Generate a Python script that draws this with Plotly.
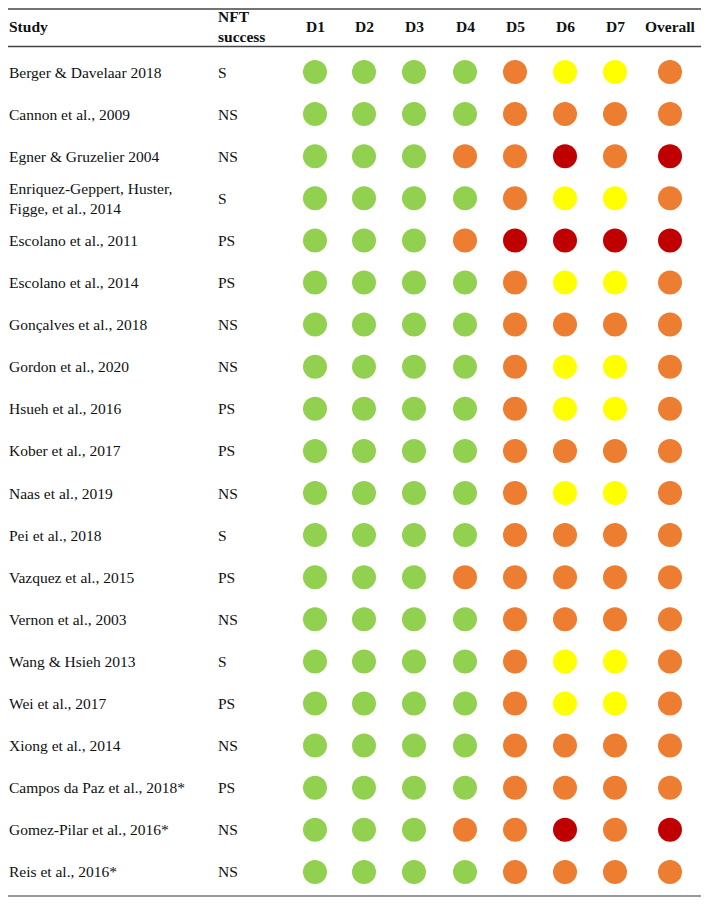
import plotly.graph_objects as go

studies = [
    "Berger & Davelaar 2018",
    "Cannon et al., 2009",
    "Egner & Gruzelier 2004",
    "Enriquez-Geppert, Huster,<br>Figge, et al., 2014",
    "Escolano et al., 2011",
    "Escolano et al., 2014",
    "Gonçalves et al., 2018",
    "Gordon et al., 2020",
    "Hsueh et al., 2016",
    "Kober et al., 2017",
    "Naas et al., 2019",
    "Pei et al., 2018",
    "Vazquez et al., 2015",
    "Vernon et al., 2003",
    "Wang & Hsieh 2013",
    "Wei et al., 2017",
    "Xiong et al., 2014",
    "Campos da Paz et al., 2018*",
    "Gomez-Pilar et al., 2016*",
    "Reis et al., 2016*",
]
nft_success = ["S", "NS", "NS", "S", "PS", "PS", "NS", "NS", "PS", "PS",
               "NS", "S", "PS", "NS", "S", "PS", "NS", "PS", "NS", "NS"]
domains = ["D1", "D2", "D3", "D4", "D5", "D6", "D7", "Overall"]
# G = low, Y = some concerns (yellow), O = high (orange), R = critical (red)
ratings = [
    "GGGGOYYO",
    "GGGGOOOO",
    "GGGOOROR",
    "GGGGOYYO",
    "GGGORRRR",
    "GGGGOYYO",
    "GGGGOOOO",
    "GGGGOYYO",
    "GGGGOYYO",
    "GGGGOOOO",
    "GGGGOYYO",
    "GGGGOOOO",
    "GGGOOOOO",
    "GGGGOOOO",
    "GGGGOYYO",
    "GGGGOYYO",
    "GGGGOOOO",
    "GGGGOOOO",
    "GGGOOROR",
    "GGGGOOOO",
]

# ---- layout / style parameters ----
W, H = 709, 907
OFF = 8  # default body margin of the page
col_x = [315, 364, 414, 465, 515, 565, 615, 670]
row_y0, row_dy = 72, 42.1
study_x, nft_x = 9, 216
colors = {"G": "#92D050", "Y": "#FFFF00", "O": "#ED7D31", "R": "#C00000"}
FONT = "Liberation Serif"
FS = 15.5

fig = go.Figure()

for code, col in colors.items():
    xs, ys = [], []
    for i, r in enumerate(ratings):
        for j, c in enumerate(r):
            if c == code:
                xs.append(col_x[j])
                ys.append(row_y0 + i * row_dy)
    fig.add_trace(go.Scatter(x=xs, y=ys, mode="markers",
                             marker=dict(size=24, color=col, line=dict(width=0)),
                             hoverinfo="skip", showlegend=False))

ann = []
ann.append(dict(x=study_x, y=26, text="<b>Study</b>", xanchor="left", xshift=-2))
ann.append(dict(x=nft_x, y=26, text="<b>NFT<br>success</b>", xanchor="left"))
for j, d in enumerate(domains):
    ann.append(dict(x=col_x[j], y=26, text=f"<b>{d}</b>", xanchor="center"))
for i, (s, n) in enumerate(zip(studies, nft_success)):
    y = row_y0 + i * row_dy
    ann.append(dict(x=study_x, y=y, text=s, xanchor="left", xshift=-2))
    ann.append(dict(x=nft_x, y=y, text=n, xanchor="left"))
for a in ann:
    a.update(xref="x", yref="y", yanchor="middle", showarrow=False,
             font=dict(family=FONT, size=FS, color="#111111"), align="left")

shapes = [
    dict(type="line", x0=OFF, x1=702, y0=OFF + 1, y1=OFF + 1, line=dict(color="#444444", width=1.5)),
    dict(type="line", x0=OFF, x1=702, y0=46.5, y1=46.5, line=dict(color="#444444", width=1.5)),
    dict(type="line", x0=OFF, x1=702, y0=896, y1=896, line=dict(color="#777777", width=1.5)),
]
for s in shapes:
    s.update(xref="x", yref="y", layer="below")

fig.update_layout(
    width=W - OFF, height=H - OFF, margin=dict(l=0, r=0, t=0, b=0),
    paper_bgcolor="white", plot_bgcolor="white",
    xaxis=dict(range=[OFF, W], visible=False, fixedrange=True),
    yaxis=dict(range=[H, OFF], visible=False, fixedrange=True),
    annotations=ann, shapes=shapes,
)
fig.write_html("out.html")
